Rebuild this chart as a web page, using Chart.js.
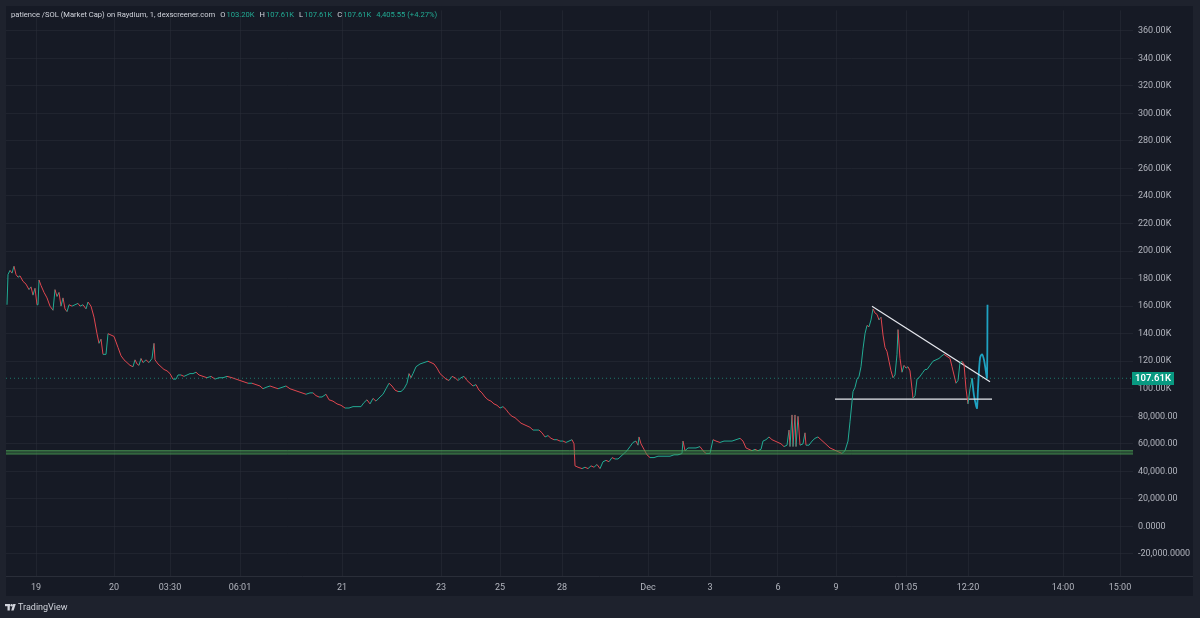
<!DOCTYPE html>
<html>
<head>
<meta charset="utf-8">
<script src="https://cdn.jsdelivr.net/npm/chart.js@4.4.1/dist/chart.umd.min.js"></script>
<style>
html,body{margin:0;padding:0;background:#1e222d;}
#wrap{width:1200px;height:618px;position:relative;}
canvas{display:block;}
</style>
</head>
<body>
<div id="wrap"><canvas id="c" width="1200" height="618"></canvas></div>
<script>
// ---- data (bar index, market cap in thousands) ----
const barIdx = [7,8,10,12,14,16,18,20,23,26,29,31,33,35,37,38,39,41,44,47,50,53,55,57,59,61,63,65,67,69,72,75,78,80,83,86,88,91,94,97,99,101,103,106,108,111,114,116,118,121,124,127,130,133,135,137,139,141,143,146,149,152,154,155,158,161,164,167,170,173,176,178,181,184,187,190,193,196,199,203,207,211,215,219,223,227,232,236,240,244,248,252,256,260,263,266,270,274,278,282,286,290,294,298,302,306,310,313,316,319,322,326,329,333,337,341,345,349,353,357,361,364,367,370,373,376,380,383,386,389,392,395,398,401,404,407,409,411,413,416,420,424,428,431,434,437,440,443,446,449,452,455,458,461,464,467,470,473,476,479,482,485,488,491,494,497,500,503,506,509,512,515,518,521,524,527,530,533,536,539,542,545,548,551,554,557,560,563,566,569,572,574,575,578,582,585,588,591,594,597,600,603,606,609,612,615,618,621,624,627,630,633,636,638,639,641,644,647,650,654,658,662,666,670,674,678,682,683,685,688,692,696,700,703,706,710,713,716,720,724,728,732,736,740,743,746,749,752,755,758,761,763,766,769,772,775,778,781,784,787,789,790,792,793,795,796,798,800,803,805,806,809,812,815,818,821,824,827,830,833,836,839,842,845,848,850,853,855,857,859,861,863,865,867,869,871,873,875,877,879,881,883,885,887,889,891,893,895,897,898,900,902,904,906,908,910,912,913,915,917,919,921,923,925,927,930,933,936,939,942,944,946,948,950,952,954,956,958,960,962,964,966,968,970,972];
const closeK = [161,183,186,184,189,183,181,182,178,176,172,174,168,173,161,161,179,175,170,166,160,157,172,167,170,160,166,158,156,161,160,161,162,160,161,158,163,160,152,140,133,136,125,125,140,139,138,134,130,124,121,119,117,116,121,118,117,122,119,121,119,122,133,121,118,116,114,113,111,107,107,110,110,109,110,111,111,112,110,109,108,109,107,108,108,109,108,107,106,105,104,104,103,102,100,101,102,101,100,101,102,100,99,98,97,96,97,97,95,94,94,96,92,91,89,88,86,86,87,87,87,90,92,89,93,91,94,96,100,104,102,99,98,98,100,104,111,108,111,116,118,119,120,119,118,115,111,109,107,106,109,108,106,108,109,106,104,102,103,99,97,94,92,91,89,88,86,87,85,82,80,79,77,75,74,73,72,70,70,70,68,65,66,64,63,63,62,62,61,62,63,60,44,43,42,43,42,44,43,45,42,47,48,47,50,49,49,51,53,55,58,61,62,59,65,60,56,52,50,50,51,51,51,51,52,52,53,62,55,57,57,57,58,55,53,53,63,62,61,62,62,62,63,64,62,57,56,55,56,55,56,62,63,65,63,62,61,60,58,59,70,58,81,58,81,58,80,59,60,68,59,59,62,64,65,63,61,59,57,56,55,54,53,55,62,76,98,101,107,109,116,129,140,146,145,150,158,155,154,150,152,139,130,127,120,113,108,110,125,143,122,112,117,115,116,113,100,93,95,107,108,110,112,114,114,117,120,121,122,124,125,124,123,122,116,110,104,106,119,120,118,100,89,100,107.61];
// hand-drawn annotations
const projIdx = [972,974,976,977,978,980,982,984,986,987,987.5];
const projK   = [107.61,95,88,86,100,122,125,121,112,108,161];
const trendIdx = [872,990];
const trendK   = [160,105];
const baseIdx  = [835,992];
const baseK    = [92.5,92.5];
const supportHighK = 55.0;
const supportLowK  = 52.6;
const lastK = 107.61;
// axes
const xTickIdx = [36,114,170,240,342,441,500,562,648,710,778,836,906,968,1063,1120];
const xTickLabels = ['19','20','03:30','06:01','21','23','25','28','Dec','3','6','9','01:05','12:20','14:00','15:00'];
const yTickValues = [-20000,0,20000,40000,60000,80000,100000,120000,140000,160000,180000,200000,220000,240000,260000,280000,300000,320000,340000,360000];
const yTickLabels = ['-20,000.0000','0.0000','20,000.00','40,000.00','60,000.00','80,000.00','100.00K','120.00K','140.00K','160.00K','180.00K','200.00K','220.00K','240.00K','260.00K','280.00K','300.00K','320.00K','340.00K','360.00K'];
const headerName = 'patience /SOL (Market Cap) on Raydium, 1, dexscreener.com';
const headerOHLC = [['O','103.20K'],['H','107.61K'],['L','107.61K'],['C','107.61K']];
const headerChange = '4,405.55 (+4.27%)';

const X_MIN = 6, X_MAX = 1133;
const UP = '#22ab94', DOWN = '#e0464f';
const FONT = 'Roboto, "Noto Sans", sans-serif';

const pts = (xs, ks) => xs.map((x,i)=>({x:x, y:ks[i]*1000}));

const bgPlugin = {
  id:'bg',
  beforeDraw(chart){
    const c = chart.ctx;
    c.save();
    c.fillStyle = '#1e222d';
    c.fillRect(0,0,1200,618);
    c.fillStyle = '#161a25';
    c.fillRect(6,6,1187,590);
    c.restore();
  },
  afterDraw(chart){
    const c = chart.ctx, a = chart.chartArea;
    c.save();
    c.strokeStyle = '#2a2e39'; c.lineWidth = 1;
    c.beginPath(); c.moveTo(6,a.bottom+0.5); c.lineTo(1193,a.bottom+0.5); c.stroke();
    // price label
    const y = chart.scales.y.getPixelForValue(lastK*1000);
    c.fillStyle = '#089981';
    c.fillRect(a.right-1, Math.round(y)-6, 42, 13);
    c.fillStyle = '#ffffff';
    c.font = '600 9.5px ' + FONT;
    c.textBaseline = 'middle'; c.textAlign = 'center';
    c.fillText(lastK.toFixed(2)+'K', a.right+20, Math.round(y)+0.5);
    // header
    c.textAlign = 'left';
    c.font = '7.6px ' + FONT;
    let hx = 11; const hy = 15.5;
    c.fillStyle = '#d1d4dc';
    c.fillText(headerName, hx, hy);
    hx += c.measureText(headerName).width + 5;
    headerOHLC.forEach(([k,v])=>{
      c.fillStyle = '#d1d4dc'; c.fillText(k, hx, hy); hx += c.measureText(k).width + 1;
      c.fillStyle = UP; c.fillText(v, hx, hy); hx += c.measureText(v).width + 5;
    });
    c.fillStyle = UP; c.fillText(headerChange, hx, hy);
    // TradingView logo
    c.fillStyle = '#d1d4dc';
    c.fillRect(5,604,5,2.2);
    c.fillRect(7.5,604,2.3,6.5);
    c.beginPath(); c.arc(11.6,605.2,1.2,0,Math.PI*2); c.fill();
    c.beginPath(); c.moveTo(13.2,604); c.lineTo(15.8,604); c.lineTo(13.6,610.5); c.lineTo(11.2,610.5); c.closePath(); c.fill();
    c.font = '9px ' + FONT;
    c.fillText('TradingView', 18, 607.5);
    c.restore();
  }
};

new Chart(document.getElementById('c'), {
  type:'line',
  data:{
    datasets:[
      {data:[{x:X_MIN,y:supportHighK*1000},{x:X_MAX,y:supportHighK*1000}], borderColor:'rgba(80,170,90,0.75)', borderWidth:1, pointRadius:0, fill:'+1', backgroundColor:'rgba(60,130,70,0.45)'},
      {data:[{x:X_MIN,y:supportLowK*1000},{x:X_MAX,y:supportLowK*1000}], borderColor:'rgba(80,170,90,0.75)', borderWidth:1, pointRadius:0, fill:false},
      {data:[{x:X_MIN,y:lastK*1000},{x:X_MAX,y:lastK*1000}], borderColor:'rgba(34,171,148,0.65)', borderWidth:1, borderDash:[1,3], pointRadius:0, fill:false},
      {data:pts(barIdx, closeK), borderWidth:1, pointRadius:0, fill:false, tension:0,
        segment:{borderColor: ctx => ctx.p1.parsed.y >= ctx.p0.parsed.y ? UP : DOWN}},
      {data:pts(trendIdx, trendK), borderColor:'#e6e8ee', borderWidth:1.2, pointRadius:0, fill:false},
      {data:pts(baseIdx, baseK), borderColor:'#e6e8ee', borderWidth:1.2, pointRadius:0, fill:false},
      {data:pts(projIdx, projK), borderColor:'#1fa2c2', borderWidth:1.8, pointRadius:0, fill:false, tension:0.35}
    ]
  },
  options:{
    responsive:false, animation:false, events:[],
    layout:{padding:{left:6, top:6, right:7, bottom:22}},
    plugins:{legend:{display:false}, tooltip:{enabled:false}},
    scales:{
      x:{type:'linear', min:X_MIN, max:X_MAX,
        afterBuildTicks(s){ s.ticks = xTickIdx.map(v=>({value:v})); },
        afterFit(s){ s.height = 20; },
        ticks:{autoSkip:false, maxRotation:0, padding:6, color:'#b2b5be', font:{family:FONT, size:9},
          callback:(v,i)=>xTickLabels[i]},
        grid:{color:'rgba(42,46,57,0.55)', drawTicks:false}, border:{display:false}},
      y:{position:'right', min:-36000, max:374800,
        afterBuildTicks(s){ s.ticks = yTickValues.map(v=>({value:v})); },
        afterFit(s){ s.width = 60; },
        ticks:{autoSkip:false, padding:5, color:'#b2b5be', font:{family:FONT, size:9},
          callback:(v,i)=>yTickLabels[i]},
        grid:{color:'rgba(42,46,57,0.55)', drawTicks:false}, border:{display:false}}
    }
  },
  plugins:[bgPlugin]
});
</script>
</body>
</html>
